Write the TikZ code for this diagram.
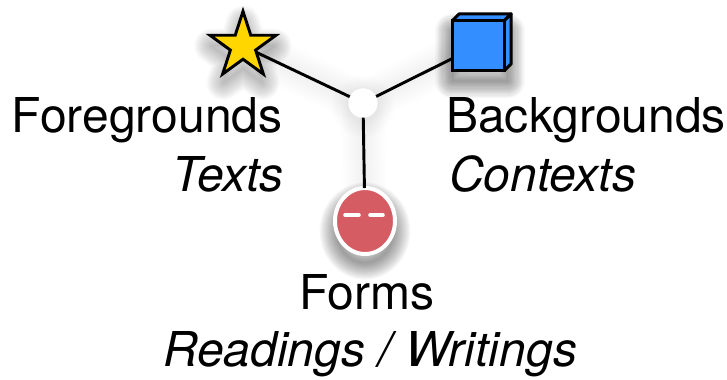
\documentclass[tikz,border=0pt]{standalone}
\usepackage{fontspec}
\setmainfont{TeX Gyre Heros}
\usetikzlibrary{shapes.geometric}
\usetikzlibrary{backgrounds}
\definecolor{stargold}{RGB}{255,214,0}
\definecolor{cubeblue}{RGB}{51,142,255}
\definecolor{facered}{RGB}{214,92,100}
\tikzset{
  biglabel/.style={font=\fontsize{41}{48}\selectfont,inner sep=0pt},
  bigitalic/.style={font=\fontsize{41}{48}\selectfont\itshape,inner sep=0pt},
  spoke/.style={draw=black,line width=2.5pt},
  softshade/.style={draw=black,opacity=0.032,line join=round},
  faintshade/.style={draw=black,opacity=0.0025,line cap=round},
}
\begin{document}
\begin{tikzpicture}
\useasboundingbox (0,0) rectangle (21.81,11.4);

\node[star,star points=5,star point ratio=2.618,draw=black,fill=stargold,line width=2.5pt,minimum size=2.08cm,inner sep=0pt,outer sep=0pt] (fgstar) at (7.29,10.02) {};
\node[rectangle,draw=black,fill=cubeblue,line width=2.5pt,minimum width=1.56cm,minimum height=1.5cm,inner sep=0pt,outer sep=0pt] (bgcube) at (14.355,10.035) {};
\draw[fill=cubeblue,line width=2.5pt,line join=round] (bgcube.north west) -- ++(0.2,0.2) -- ++(1.56,0) -- (bgcube.north east) -- cycle;
\draw[fill=cubeblue,line width=2.5pt,line join=round] (bgcube.north east) -- ++(0.2,0.2) -- ++(0,-1.5) -- (bgcube.south east) -- cycle;
\node[ellipse,draw=white,fill=facered,line width=3.4pt,minimum width=1.8cm,minimum height=1.98cm,inner sep=0pt,outer sep=0pt] (formface) at (10.95,4.77) {};
\draw[white,line width=3pt,line cap=round] ([xshift=-0.6cm,yshift=0.18cm]formface.center) -- ([xshift=-0.18cm,yshift=0.18cm]formface.center);
\draw[white,line width=3pt,line cap=round] ([xshift=0.15cm,yshift=0.18cm]formface.center) -- ([xshift=0.54cm,yshift=0.18cm]formface.center);
\node[circle,fill=white,minimum size=0.88cm,inner sep=0pt,outer sep=0pt] (hub) at (10.89,8.31) {};

\draw[spoke] (fgstar) -- (hub);
\draw[spoke] (bgcube) -- (hub);
\draw[spoke] (hub) -- (formface);

\begin{scope}[on background layer]
\foreach \w in {1,3,5,7,9,11,13,15,17,19,21,23,25,27,29}{
  \node[star,star points=5,star point ratio=2.618,minimum size=2cm,inner sep=0pt,softshade,opacity=0.02,line width=\w pt] (starshade\w) at (7.29,9.72) {};
  \node[rectangle,minimum width=1.66cm,minimum height=1.5cm,inner sep=0pt,softshade,line width=\w pt] (cubeshade\w) at (14.4,9.72) {};
  \node[ellipse,minimum width=1.7cm,minimum height=1.9cm,inner sep=0pt,softshade,line width=\w pt] (faceshade\w) at (10.95,4.47) {};
  \node[circle,minimum size=0.88cm,inner sep=0pt,faintshade,line width=\w pt] (hubshade\w) at (10.89,8.2) {};
  \draw[faintshade,line width=1.3*\w pt] (fgstar) -- (hub);
  \draw[faintshade,line width=1.3*\w pt] (bgcube) -- (hub);
  \draw[faintshade,line width=1.3*\w pt] (hub) -- (formface);
}
\end{scope}

\node[biglabel,anchor=base east] (fglabel) at (8.48,7.41) {Foregrounds};
\node[bigitalic,anchor=base east] (fgtext) at (8.52,5.64) {Texts};
\node[biglabel,anchor=base west] (bglabel) at (13.38,7.41) {Backgrounds};
\node[bigitalic,anchor=base west] (bgtext) at (13.47,5.64) {Contexts};
\node[biglabel,anchor=base] (formlabel) at (11.01,2.1) {Forms};
\node[bigitalic,anchor=base] (formtext) at (11.1,0.39) {Readings / Writings};
\end{tikzpicture}
\end{document}
